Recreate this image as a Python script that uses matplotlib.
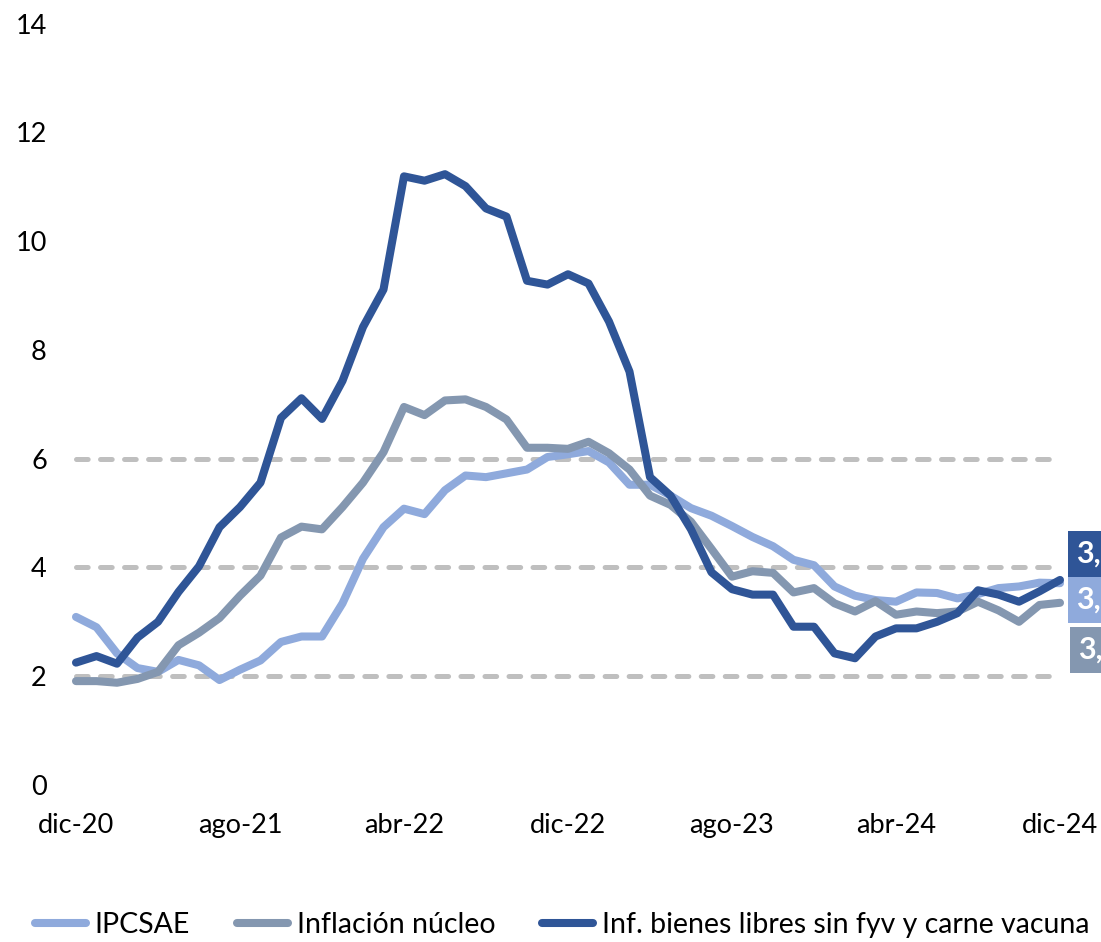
import matplotlib
matplotlib.use("Agg")
import matplotlib.pyplot as plt
from matplotlib.patches import Rectangle

plt.rcParams['font.family'] = ['Lato', 'DejaVu Sans']
plt.rcParams['lines.scale_dashes'] = False

# ---------------- data ----------------
tick_labels = ["dic-20", "ago-21", "abr-22", "dic-22", "ago-23", "abr-24", "dic-24"]
tick_pos = [0, 8, 16, 24, 32, 40, 48]

ipcsae = [3.09, 2.90, 2.42, 2.15, 2.08, 2.30, 2.20, 1.93, 2.12, 2.29,
          2.63, 2.73, 2.73, 3.34, 4.16, 4.74, 5.08, 4.98, 5.42, 5.69,
          5.66, 5.73, 5.80, 6.03, 6.08, 6.14, 5.93, 5.52, 5.52, 5.32,
          5.09, 4.95, 4.76, 4.56, 4.39, 4.14, 4.04, 3.65, 3.48, 3.40,
          3.37, 3.54, 3.53, 3.43, 3.51, 3.62, 3.65, 3.72, 3.71]

nucleo = [1.91, 1.91, 1.88, 1.95, 2.08, 2.57, 2.80, 3.07, 3.48, 3.85,
          4.55, 4.75, 4.70, 5.11, 5.56, 6.12, 6.95, 6.80, 7.07, 7.09,
          6.95, 6.72, 6.20, 6.20, 6.18, 6.31, 6.10, 5.80, 5.32, 5.15,
          4.84, 4.34, 3.83, 3.93, 3.90, 3.54, 3.62, 3.34, 3.19, 3.38,
          3.13, 3.19, 3.16, 3.19, 3.37, 3.21, 3.00, 3.31, 3.35]

bienes = [2.25, 2.37, 2.23, 2.71, 3.00, 3.55, 4.02, 4.74, 5.11, 5.56,
          6.75, 7.11, 6.73, 7.43, 8.42, 9.11, 11.19, 11.11, 11.23, 11.01,
          10.60, 10.45, 9.27, 9.20, 9.39, 9.22, 8.52, 7.60, 5.66, 5.32,
          4.70, 3.91, 3.60, 3.50, 3.50, 2.91, 2.91, 2.42, 2.33, 2.73,
          2.88, 2.88, 3.00, 3.16, 3.58, 3.50, 3.37, 3.56, 3.77]

series_names = ["IPCSAE", "Inflación núcleo", "Inf. bienes libres sin fyv y carne vacuna"]
series_vals = [ipcsae, nucleo, bienes]
target_lines = [2, 4, 6]
y_ticks = [0, 2, 4, 6, 8, 10, 12, 14]

colors = ["#8FAADC", "#8497B0", "#2F5597"]

# ---------------- figure ----------------
W, H = 1101, 942
fig = plt.figure(figsize=(W / 100, H / 100), dpi=100)
ax = fig.add_axes([76 / W, 1 - 785 / H, (1060 - 76) / W, (785 - 23.5) / H])

x = list(range(len(ipcsae)))

for yv in target_lines:
    ax.plot([0, 48], [yv, yv], color="#BFBFBF", lw=3.6, dashes=(8.4, 8.9),
            dash_capstyle="round", zorder=1, clip_on=False)

handles = []
for name, vals, c in zip(series_names, series_vals, colors):
    h, = ax.plot(x, vals, color=c, lw=5.8, solid_capstyle="round",
                 solid_joinstyle="round", label=name, zorder=3, clip_on=False)
    handles.append(h)

ax.set_xlim(0, 48)
ax.set_ylim(0, 14)
ax.set_yticks(y_ticks)
ax.set_yticklabels([str(v) for v in y_ticks])
ax.set_xticks(tick_pos)
ax.set_xticklabels(tick_labels)
for s in ax.spines.values():
    s.set_visible(False)
ax.tick_params(axis="both", length=0, labelsize=19.5, colors="black")
ax.tick_params(axis="y", pad=21)
ax.tick_params(axis="x", pad=20)

fig.legend(handles=handles, labels=series_names, loc="center",
           bbox_to_anchor=(562 / W, 1 - 925 / H), ncol=3, frameon=False,
           fontsize=20.5, handlelength=1.8, handletextpad=0.3, columnspacing=1.65)

# end-of-series value labels (clipped by the figure edge as in the original)
label_boxes = [(bienes, colors[2], 531, 577, 1068),
               (ipcsae, colors[0], 577, 623, 1068),
               (nucleo, colors[1], 627, 673, 1070)]
for vals, c, y0, y1, x0 in label_boxes:
    fig.patches.append(Rectangle((x0 / W, 1 - y1 / H), (W - x0) / W + 0.01, (y1 - y0) / H,
                                 transform=fig.transFigure, facecolor=c, edgecolor="none"))
    fig.text((x0 + 8) / W, 1 - (y0 + y1) / 2 / H, f"{vals[-1]:.1f}".replace(".", ","),
             color="white", fontsize=22, fontweight="bold", ha="left", va="center")

fig.savefig("out.png", dpi=100)
